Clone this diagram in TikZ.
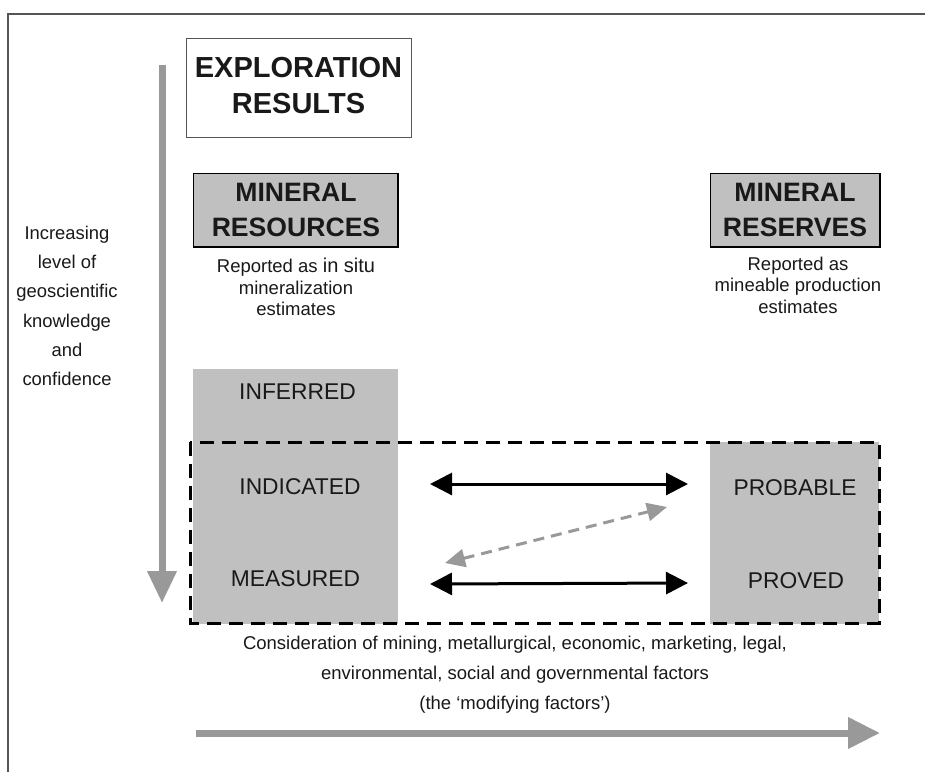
\documentclass[tikz,border=0pt]{standalone}
\usepackage{fontspec}
\setmainfont{Liberation Sans}
\usetikzlibrary{arrows.meta}
\definecolor{boxgray}{RGB}{192,192,192}
\definecolor{arrgray}{RGB}{153,153,153}
\definecolor{framegray}{RGB}{85,85,85}
\definecolor{txtcol}{RGB}{25,25,25}
\tikzset{
  txt/.style={font=\fontsize{18.5}{21.5}\selectfont, align=center, inner sep=0pt, text=txtcol},
  lefttxt/.style={font=\fontsize{18.4}{29.2}\selectfont, align=center, inner sep=0pt, text=txtcol},
  lvl/.style={font=\fontsize{22.8}{26}\selectfont, inner sep=0pt, text=txtcol},
  headbig/.style={font=\bfseries\fontsize{29}{36}\selectfont, align=center, inner sep=0pt, text=txtcol},
  headmid/.style={font=\bfseries\fontsize{26.6}{35}\selectfont, align=center, inner sep=0pt, text=txtcol},
  graybox/.style={fill=boxgray, draw=none},
  blkarrow/.style={line width=3pt, black, {Triangle[length=22pt,width=22pt]}-{Triangle[length=22pt,width=22pt]}},
  grayarrow/.style={line width=3pt, arrgray, dash pattern=on 11pt off 7pt, {Triangle[length=20pt,width=18pt]}-{Triangle[length=20pt,width=18pt]}},
  bigarrow/.style={line width=7pt, arrgray, -{Triangle[length=32pt,width=28pt]}},
}
\begin{document}
\begin{tikzpicture}[x=1pt,y=-1pt]
\useasboundingbox (0,0) rectangle (925,772);
\fill[white] (0,0) rectangle (925,772);

% frame
\draw[framegray, line width=2pt] (925,14) -- (7.5,14) -- (7.5,772);

% vertical arrow
\coordinate (vtop) at (162,65);
\coordinate (vbot) at (162,603);
\draw[bigarrow] (vtop) -- (vbot);

% exploration results box
\draw[framegray, line width=1pt] (186,38) rectangle (411,137);
\node[headbig] (expl) at (298.5,86) {EXPLORATION\\RESULTS};

% mineral resources / reserves boxes
\fill[boxgray] (193,173) rectangle (398,247);
\draw[black, line width=1pt] (193,247) -- (193,173) -- (398,173);
\draw[black, line width=2pt] (398,173) -- (398,247) -- (193,247);
\node[headmid] (mres) at (296,210) {MINERAL\\RESOURCES};

\fill[boxgray] (710,173) rectangle (880,247);
\draw[black, line width=1pt] (710,247) -- (710,173) -- (880,173);
\draw[black, line width=2pt] (880,173) -- (880,247) -- (710,247);
\node[headmid] (mrsv) at (795,210) {MINERAL\\RESERVES};

% descriptive texts
\node[txt] (rep1) at (296,287) {Reported as {\fontsize{20}{21.5}\selectfont in situ}\\mineralization\\estimates};
\node[txt] (rep2) at (798,285) {Reported as\\mineable production\\estimates};
\node[lefttxt] (incr) at (67,306) {Increasing\\level of\\geoscientific\\knowledge\\and\\confidence};

% category boxes
\fill[boxgray] (193,369) rectangle (398,624);
\fill[boxgray] (710,442) rectangle (879,624);
\draw[black, line width=3pt, dash pattern=on 14pt off 8pt] (190,442) rectangle (879,623);

\node[lvl] (inf) at (297.5,392) {INFERRED};
\node[lvl] (ind) at (300,487) {INDICATED};
\node[lvl] (mea) at (295.5,579) {MEASURED};
\node[lvl] (prob) at (795,488) {PROBABLE};
\node[lvl] (prov) at (796,581) {PROVED};

% arrows between categories
\coordinate (indl) at (430,484);
\coordinate (indr) at (688,484);
\coordinate (meal) at (430,584);
\coordinate (mear) at (688,583);
\coordinate (dl) at (445,563);
\coordinate (dr) at (667,507);
\draw[blkarrow] (indl) -- (indr);
\draw[blkarrow] (meal) -- (mear);
\draw[grayarrow] (dl) -- (dr);

% bottom text and arrow
\node[txt, font=\fontsize{18.5}{30}\selectfont] (mod) at (515,675) {Consideration of mining, metallurgical, economic, marketing, legal,\\environmental, social and governmental factors\\(the ‘modifying factors’)};
\coordinate (hl) at (196,733);
\coordinate (hr) at (880,733);
\draw[bigarrow, -{Triangle[length=32pt,width=30pt]}] (hl) -- (hr);
\end{tikzpicture}
\end{document}
